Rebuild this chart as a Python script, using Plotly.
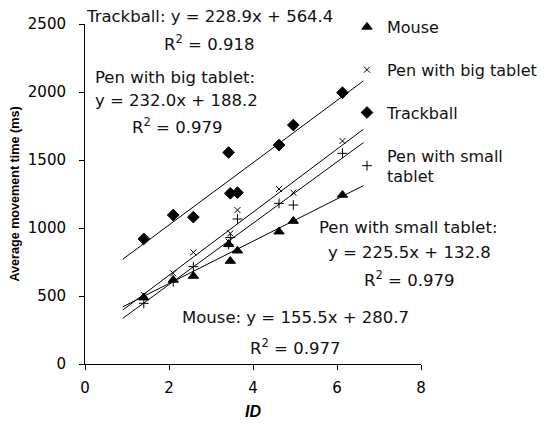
import plotly.graph_objects as go

# ---- data ----
ids = [1.4, 2.1, 2.58, 3.42, 3.46, 3.63, 4.62, 4.96, 6.13]
mouse = [488, 618, 647, 880, 757, 833, 973, 1051, 1243]
pen_big = [507, 667, 821, 900, 960, 1132, 1287, 1260, 1640]
trackball = [920, 1095, 1080, 1555, 1255, 1260, 1610, 1757, 1995]
pen_small = [446, 605, 716, 880, 930, 1066, 1181, 1169, 1549]

device_names = ["Mouse", "Pen with big tablet", "Trackball", "Pen with small<br>tablet"]
slopes = [155.5, 232.0, 228.9, 225.5]
intercepts = [280.7, 188.2, 564.4, 132.8]
r2 = [0.977, 0.979, 0.918, 0.979]
trend_range = [0.9, 6.63]

x_ticks = [0, 2, 4, 6, 8]
y_ticks = [0, 500, 1000, 1500, 2000, 2500]

series = [mouse, pen_big, trackball, pen_small]
symbols = ["triangle-up", "x-thin-open", "diamond", "cross-thin-open"]
sizes = [9, 6, 9, 7]

fig = go.Figure()

# trend lines
for s, b in zip(slopes, intercepts):
    fig.add_trace(go.Scatter(
        x=trend_range, y=[s * x + b for x in trend_range],
        mode="lines", line=dict(color="black", width=1),
        showlegend=False, hoverinfo="skip"))

for i, (name, ys, sym, sz) in enumerate(zip(device_names, series, symbols, sizes)):
    fig.add_trace(go.Scatter(
        x=ids, y=ys, mode="markers", name=name,
        legendgroup=f"g{i}",
        marker=dict(symbol=sym, size=sz, color="black",
                    line=dict(color="black", width=1))))

font_txt = dict(family="DejaVu Sans, sans-serif", size=16.5, color="#111")

# page has an 8px body margin; plot area on screen spans x 85..421, y 24..364
OFF = 8
W, H = 547 - OFF, 429 - OFF
L, T = 85 - OFF, 24 - OFF
R = W - (421 - OFF)
B = H - (364 - OFF)
PW, PH = 336, 340

def pxx(px):
    return (px - 85) / PW

def pxy(py):
    return (364 - py) / PH

labels = [
    ("Trackball: y = 228.9x + 564.4", 209, 16),
    ("R<sup>2</sup> = 0.918", 209, 43),
    ("Pen with big tablet:", 175, 77),
    ("y = 232.0x + 188.2", 176, 100),
    ("R<sup>2</sup> = 0.979", 177, 126),
    ("Pen with small tablet:", 408, 227),
    ("y = 225.5x + 132.8", 409, 252),
    ("R<sup>2</sup> = 0.979", 409, 279),
    ("Mouse: y = 155.5x + 280.7", 295, 317),
    ("R<sup>2</sup> = 0.977", 295, 347),
]
for t, px, py in labels:
    fig.add_annotation(x=pxx(px), y=pxy(py), xref="paper", yref="paper", text=t,
                       showarrow=False, font=font_txt, xanchor="center",
                       yanchor="middle")

fig.update_layout(
    width=W, height=H,
    margin=dict(l=L, r=R, t=T, b=B, autoexpand=False),
    plot_bgcolor="white", paper_bgcolor="white",
    showlegend=True,
    legend=dict(x=pxx(347), y=pxy(10), xanchor="left", yanchor="top",
                font=dict(family="DejaVu Sans, sans-serif", size=16, color="#111"),
                tracegroupgap=19, traceorder="grouped",
                bgcolor="rgba(0,0,0,0)"),
    xaxis=dict(range=[0, 8], tickvals=x_ticks, showgrid=False, zeroline=False,
               showline=True, linecolor="black", linewidth=1,
               ticks="outside", ticklen=5, tickcolor="black", automargin=False,
               ticklabelstandoff=5,
               tickfont=dict(family="DejaVu Sans", size=15, color="black"),
               title=dict(text="<b><i>ID</i></b>", standoff=9,
                          font=dict(family="Liberation Sans, Arial", size=16, color="black"))),
    yaxis=dict(range=[0, 2500], tickvals=y_ticks, showgrid=False, zeroline=False,
               showline=True, linecolor="black", linewidth=1,
               ticks="outside", ticklen=5, tickcolor="black", automargin=False,
               ticklabelstandoff=10,
               tickfont=dict(family="DejaVu Sans", size=15, color="black"),
               title=dict(text="<b>Average movement time (ms)</b>", standoff=6,
                          font=dict(family="Liberation Sans, Arial", size=12.6, color="black"))),
)

fig.write_html("out.html")
